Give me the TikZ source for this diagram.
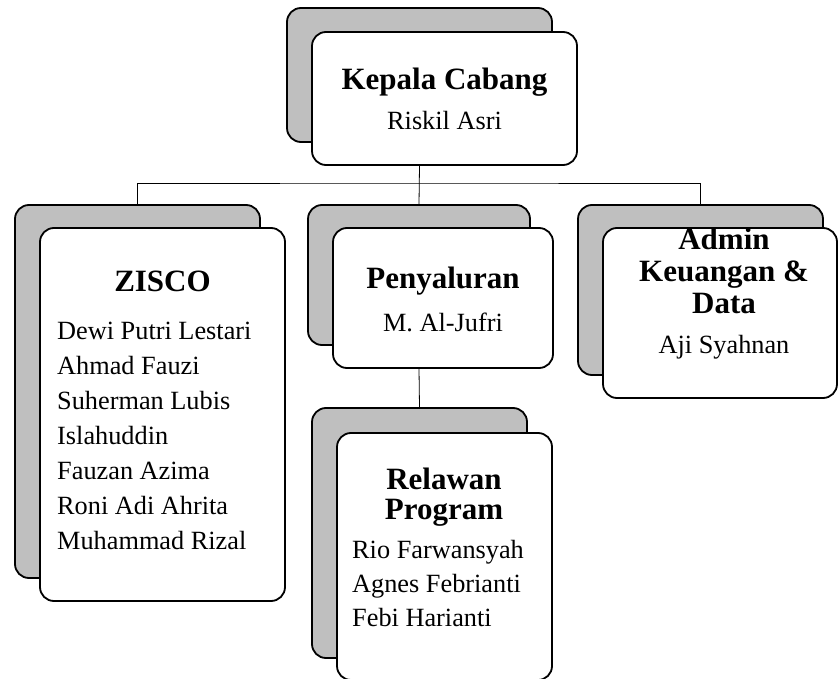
\documentclass[tikz,border=0pt]{standalone}
\usepackage{fontspec}
\setmainfont{Liberation Serif}
\tikzset{
  backbox/.style={draw, line width=1.8pt, rounded corners=14pt, fill=gray!50, inner sep=0pt},
  frontbox/.style={draw, line width=1.8pt, rounded corners=14pt, fill=white, inner sep=0pt},
  link/.style={line width=0.8pt},
  head/.style={font=\fontsize{31}{31}\selectfont\bfseries, anchor=base, inner sep=0pt},
  member/.style={font=\fontsize{26.3}{26}\selectfont, anchor=base, inner sep=0pt},
}
\begin{document}
\begin{tikzpicture}[x=1pt,y=-1pt]
  \useasboundingbox (0,0) rectangle (838,679);
  % boxes: grey one behind, white one in front
  \node[backbox, minimum width=265pt, minimum height=134pt] (kc-sh) at (419.5,75) {};
  \node[frontbox, minimum width=265pt, minimum height=133pt] (kc) at (444.5,98.5) {};
  \node[backbox, minimum width=245pt, minimum height=373pt] (zisco-sh) at (137.5,391.5) {};
  \node[frontbox, minimum width=245pt, minimum height=373pt] (zisco) at (162.5,414.5) {};
  \node[backbox, minimum width=222pt, minimum height=140pt] (salur-sh) at (419,275) {};
  \node[frontbox, minimum width=220pt, minimum height=140pt] (salur) at (443,298) {};
  \node[backbox, minimum width=245pt, minimum height=170pt] (admin-sh) at (700.5,290) {};
  \node[frontbox, minimum width=234pt, minimum height=170pt] (admin) at (720,313) {};
  \node[backbox, minimum width=215pt, minimum height=250pt] (relawan-sh) at (419.5,533) {};
  \node[frontbox, minimum width=215pt, minimum height=247pt] (relawan) at (444.5,556.5) {};

  % connectors
  \coordinate (bus) at (419.5,183);
  \draw[link] (kc-sh |- kc.south) -- (salur-sh.north);
  \draw[link] (zisco-sh.north) |- (bus) -| (admin-sh.north);
  \draw[link] (salur-sh |- salur.south) -- (relawan-sh.north);

  % texts
  \node[head] (kc-title) at (444.5,90) {Kepala Cabang};
  \node[member] (kc-name) at (444.5,130) {Riskil Asri};

  \node[head] (zisco-title) at (162.5,291) {ZISCO};
  \foreach [count=\i] \nm in {Dewi Putri Lestari,Ahmad Fauzi,Suherman Lubis,Islahuddin,Fauzan Azima,Roni Adi Ahrita,Muhammad Rizal} {
    \node[member, anchor=base west] (zisco-\i) at (57,339+35*\i-35) {\nm};
  }

  \node[head] (salur-title) at (443,288) {Penyaluran};
  \node[member] (salur-name) at (443,331) {M. Al-Jufri};

  \foreach [count=\i] \ln in {Admin,Keuangan \&,Data} {
    \node[head] (admin-title-\i) at (724,250+31.5*\i-31.5) {\ln};
  }
  \node[member] (admin-name) at (724,353) {Aji Syahnan};

  \node[head] (relawan-title-1) at (444,489) {Relawan};
  \node[head] (relawan-title-2) at (444,519) {Program};
  \foreach [count=\i] \nm in {Rio Farwansyah,Agnes Febrianti,Febi Harianti} {
    \node[member, anchor=base west] (relawan-\i) at (352,558+34*\i-34) {\nm};
  }
\end{tikzpicture}
\end{document}
